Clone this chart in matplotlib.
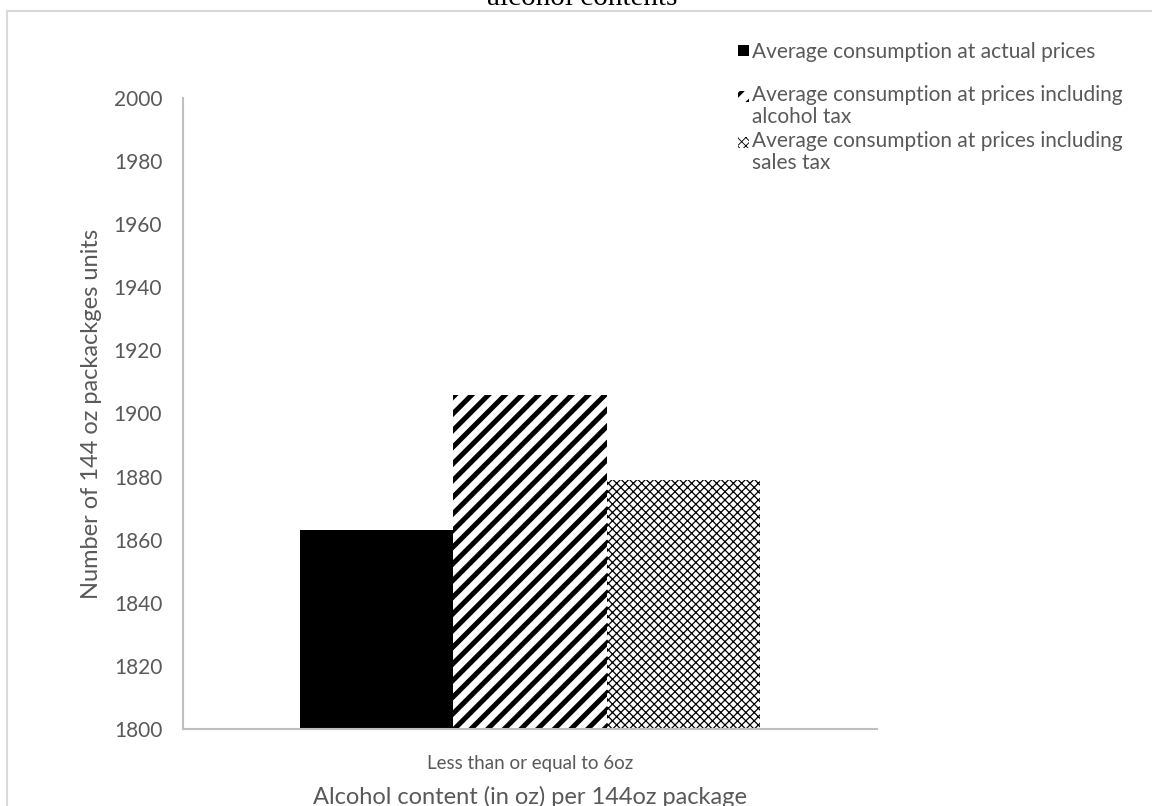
import matplotlib
matplotlib.use("Agg")
import matplotlib.pyplot as plt
from matplotlib.patches import Rectangle

# Average consumption of 144oz packages, <= 6oz alcohol content
category = "Less than or equal to 6oz"
series = [
    "Average consumption at actual prices",
    "Average consumption at prices including\nalcohol tax",
    "Average consumption at prices including\nsales tax",
]
values = [1863, 1906, 1879]
yticks = [1800, 1820, 1840, 1860, 1880, 1900, 1920, 1940, 1960, 1980, 2000]

hatches = [None, "//", "xxxx"]
hatch_widths = [1.0, 3.6, 0.9]

grey = "#595959"
plt.rcParams["font.family"] = ["Lato", "DejaVu Sans"]

fig = plt.figure(figsize=(11.52, 8.06), dpi=100)
W, H = 1152, 806

# chart area border (runs off the top/right of the image)
fig.patches.append(Rectangle((7 / W, -0.1), 1.2, (H - 11) / H + 0.1,
                             transform=fig.transFigure, fill=False,
                             edgecolor="#d9d9d9", linewidth=1.5))

fig.text(582 / W, (H - 5) / H, "alcohol contents", ha="center", va="baseline",
         family="Liberation Serif", fontsize=21, color="black")

ax = fig.add_axes([183 / W, (H - 729) / H, 694 / W, (729 - 98) / H])

w = 0.221
offsets = [-w, 0.0, w]
for i, v in enumerate(values):
    b = ax.bar(offsets[i], v - 1800, bottom=1800, width=w,
               color="black" if hatches[i] is None else "white",
               edgecolor="black", linewidth=0, hatch=hatches[i])
    for p in b:
        if hasattr(p, "set_hatch_linewidth"):
            p.set_hatch_linewidth(hatch_widths[i])

ax.set_xlim(-0.5, 0.5)
ax.set_ylim(1800, 2000)
ax.set_yticks(yticks)
ax.set_xticks([0])
ax.set_xticklabels([category])
ax.tick_params(axis="y", length=0, pad=15, labelsize=15, labelcolor=grey)
ax.tick_params(axis="x", length=0, pad=19, labelsize=13.5, labelcolor=grey)
for s in ["top", "right"]:
    ax.spines[s].set_visible(False)
for s in ["left", "bottom"]:
    ax.spines[s].set_color("#bfbfbf")
    ax.spines[s].set_linewidth(1.5)

ax.set_ylabel("Number of 144 oz packackges units", fontsize=17, color=grey)
ax.yaxis.set_label_coords(-0.117, 0.5)
fig.text(530 / W, (H - 797) / H, "Alcohol content (in oz) per 144oz package",
         ha="center", va="center", fontsize=17, color=grey)

# legend entries in the top-right corner
leg_y = [50, 96, 142]
for i, lab in enumerate(series):
    yc = (H - leg_y[i]) / H
    if "\n" in lab:
        fig.text(752 / W, yc + 11 / H, lab, ha="left", va="top", fontsize=15,
                 color=grey, linespacing=1.12)
    else:
        fig.text(752 / W, yc, lab, ha="left", va="center_baseline",
                 fontsize=15, color=grey)
    r = Rectangle((738 / W, yc - 6 / H), 11 / W, 11 / H, transform=fig.transFigure,
                  facecolor="black" if hatches[i] is None else "white",
                  edgecolor="black", linewidth=0, hatch=hatches[i])
    if hasattr(r, "set_hatch_linewidth"):
        r.set_hatch_linewidth(hatch_widths[i] * 0.7)
    fig.patches.append(r)

fig.savefig("out.png", dpi=100)
